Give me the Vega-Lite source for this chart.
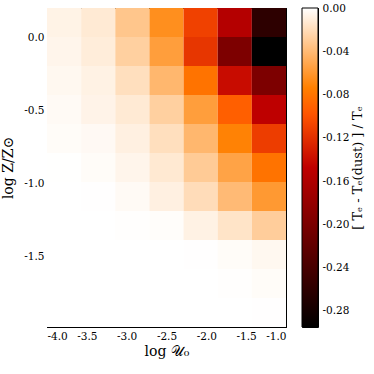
{
 "$schema": "https://vega.github.io/schema/vega-lite/v6.json",
 "padding": {"left": 1, "top": 2, "right": 2, "bottom": 2},
 "spacing": 14,
 "config": {
  "view": {"stroke": "black", "strokeWidth": 1},
  "axis": {"domain": true, "domainColor": "black", "domainWidth": 1, "grid": false, "tickColor": "black", "tickSize": -4, "labelFont": "DejaVu Serif", "labelFontSize": 10.5, "labelColor": "black", "titleFont": "DejaVu Serif", "titleFontSize": 14, "titleFontWeight": "normal", "titleColor": "black"}
 },
 "datasets": {
  "cells": [
   {"u0":-4,"u1":-3.5714,"z0":0,"z1":0.198,"v":-0.0072},
   {"u0":-3.5714,"u1":-3.1429,"z0":0,"z1":0.198,"v":-0.0124},
   {"u0":-3.1429,"u1":-2.7143,"z0":0,"z1":0.198,"v":-0.0333},
   {"u0":-2.7143,"u1":-2.2857,"z0":0,"z1":0.198,"v":-0.065},
   {"u0":-2.2857,"u1":-1.8571,"z0":0,"z1":0.198,"v":-0.110},
   {"u0":-1.8571,"u1":-1.4286,"z0":0,"z1":0.198,"v":-0.156},
   {"u0":-1.4286,"u1":-1,"z0":0,"z1":0.198,"v":-0.260},
   {"u0":-4,"u1":-3.5714,"z0":-0.198,"z1":0,"v":-0.0058},
   {"u0":-3.5714,"u1":-3.1429,"z0":-0.198,"z1":0,"v":-0.0107},
   {"u0":-3.1429,"u1":-2.7143,"z0":-0.198,"z1":0,"v":-0.0275},
   {"u0":-2.7143,"u1":-2.2857,"z0":-0.198,"z1":0,"v":-0.0564},
   {"u0":-2.2857,"u1":-1.8571,"z0":-0.198,"z1":0,"v":-0.1165},
   {"u0":-1.8571,"u1":-1.4286,"z0":-0.198,"z1":0,"v":-0.1986},
   {"u0":-1.4286,"u1":-1,"z0":-0.198,"z1":0,"v":-0.295},
   {"u0":-4,"u1":-3.5714,"z0":-0.396,"z1":-0.198,"v":-0.0043},
   {"u0":-3.5714,"u1":-3.1429,"z0":-0.396,"z1":-0.198,"v":-0.0078},
   {"u0":-3.1429,"u1":-2.7143,"z0":-0.396,"z1":-0.198,"v":-0.0188},
   {"u0":-2.7143,"u1":-2.2857,"z0":-0.396,"z1":-0.198,"v":-0.0419},
   {"u0":-2.2857,"u1":-1.8571,"z0":-0.396,"z1":-0.198,"v":-0.081},
   {"u0":-1.8571,"u1":-1.4286,"z0":-0.396,"z1":-0.198,"v":-0.1408},
   {"u0":-1.4286,"u1":-1,"z0":-0.396,"z1":-0.198,"v":-0.1986},
   {"u0":-4,"u1":-3.5714,"z0":-0.594,"z1":-0.396,"v":-0.0029},
   {"u0":-3.5714,"u1":-3.1429,"z0":-0.594,"z1":-0.396,"v":-0.0067},
   {"u0":-3.1429,"u1":-2.7143,"z0":-0.594,"z1":-0.396,"v":-0.0124},
   {"u0":-2.7143,"u1":-2.2857,"z0":-0.594,"z1":-0.396,"v":-0.0275},
   {"u0":-2.2857,"u1":-1.8571,"z0":-0.594,"z1":-0.396,"v":-0.0564},
   {"u0":-1.8571,"u1":-1.4286,"z0":-0.594,"z1":-0.396,"v":-0.0925},
   {"u0":-1.4286,"u1":-1,"z0":-0.594,"z1":-0.396,"v":-0.1485},
   {"u0":-4,"u1":-3.5714,"z0":-0.792,"z1":-0.594,"v":-0.002},
   {"u0":-3.5714,"u1":-3.1429,"z0":-0.792,"z1":-0.594,"v":-0.0032},
   {"u0":-3.1429,"u1":-2.7143,"z0":-0.792,"z1":-0.594,"v":-0.0087},
   {"u0":-2.7143,"u1":-2.2857,"z0":-0.792,"z1":-0.594,"v":-0.0188},
   {"u0":-2.2857,"u1":-1.8571,"z0":-0.792,"z1":-0.594,"v":-0.0419},
   {"u0":-1.8571,"u1":-1.4286,"z0":-0.792,"z1":-0.594,"v":-0.0723},
   {"u0":-1.4286,"u1":-1,"z0":-0.792,"z1":-0.594,"v":-0.112},
   {"u0":-4,"u1":-3.5714,"z0":-0.99,"z1":-0.792,"v":-0.0002},
   {"u0":-3.5714,"u1":-3.1429,"z0":-0.99,"z1":-0.792,"v":-0.002},
   {"u0":-3.1429,"u1":-2.7143,"z0":-0.99,"z1":-0.792,"v":-0.0058},
   {"u0":-2.7143,"u1":-2.2857,"z0":-0.99,"z1":-0.792,"v":-0.013},
   {"u0":-2.2857,"u1":-1.8571,"z0":-0.99,"z1":-0.792,"v":-0.0304},
   {"u0":-1.8571,"u1":-1.4286,"z0":-0.99,"z1":-0.792,"v":-0.0535},
   {"u0":-1.4286,"u1":-1,"z0":-0.99,"z1":-0.792,"v":-0.081},
   {"u0":-4,"u1":-3.5714,"z0":-1.188,"z1":-0.99,"v":0},
   {"u0":-3.5714,"u1":-3.1429,"z0":-1.188,"z1":-0.99,"v":-0.0003},
   {"u0":-3.1429,"u1":-2.7143,"z0":-1.188,"z1":-0.99,"v":-0.0029},
   {"u0":-2.7143,"u1":-2.2857,"z0":-1.188,"z1":-0.99,"v":-0.0087},
   {"u0":-2.2857,"u1":-1.8571,"z0":-1.188,"z1":-0.99,"v":-0.0202},
   {"u0":-1.8571,"u1":-1.4286,"z0":-1.188,"z1":-0.99,"v":-0.040},
   {"u0":-1.4286,"u1":-1,"z0":-1.188,"z1":-0.99,"v":-0.0593},
   {"u0":-4,"u1":-3.5714,"z0":-1.386,"z1":-1.188,"v":0},
   {"u0":-3.5714,"u1":-3.1429,"z0":-1.386,"z1":-1.188,"v":0},
   {"u0":-3.1429,"u1":-2.7143,"z0":-1.386,"z1":-1.188,"v":-0.0005},
   {"u0":-2.7143,"u1":-2.2857,"z0":-1.386,"z1":-1.188,"v":-0.0014},
   {"u0":-2.2857,"u1":-1.8571,"z0":-1.386,"z1":-1.188,"v":-0.0078},
   {"u0":-1.8571,"u1":-1.4286,"z0":-1.386,"z1":-1.188,"v":-0.0159},
   {"u0":-1.4286,"u1":-1,"z0":-1.386,"z1":-1.188,"v":-0.0289},
   {"u0":-4,"u1":-3.5714,"z0":-1.584,"z1":-1.386,"v":0},
   {"u0":-3.5714,"u1":-3.1429,"z0":-1.584,"z1":-1.386,"v":0},
   {"u0":-3.1429,"u1":-2.7143,"z0":-1.584,"z1":-1.386,"v":0},
   {"u0":-2.7143,"u1":-2.2857,"z0":-1.584,"z1":-1.386,"v":0},
   {"u0":-2.2857,"u1":-1.8571,"z0":-1.584,"z1":-1.386,"v":-0.0003},
   {"u0":-1.8571,"u1":-1.4286,"z0":-1.584,"z1":-1.386,"v":-0.002},
   {"u0":-1.4286,"u1":-1,"z0":-1.584,"z1":-1.386,"v":-0.0043},
   {"u0":-4,"u1":-3.5714,"z0":-1.782,"z1":-1.584,"v":0},
   {"u0":-3.5714,"u1":-3.1429,"z0":-1.782,"z1":-1.584,"v":0},
   {"u0":-3.1429,"u1":-2.7143,"z0":-1.782,"z1":-1.584,"v":0},
   {"u0":-2.7143,"u1":-2.2857,"z0":-1.782,"z1":-1.584,"v":0},
   {"u0":-2.2857,"u1":-1.8571,"z0":-1.782,"z1":-1.584,"v":0},
   {"u0":-1.8571,"u1":-1.4286,"z0":-1.782,"z1":-1.584,"v":-0.0005},
   {"u0":-1.4286,"u1":-1,"z0":-1.782,"z1":-1.584,"v":-0.002},
   {"u0":-4,"u1":-3.5714,"z0":-1.98,"z1":-1.782,"v":0},
   {"u0":-3.5714,"u1":-3.1429,"z0":-1.98,"z1":-1.782,"v":0},
   {"u0":-3.1429,"u1":-2.7143,"z0":-1.98,"z1":-1.782,"v":0},
   {"u0":-2.7143,"u1":-2.2857,"z0":-1.98,"z1":-1.782,"v":0},
   {"u0":-2.2857,"u1":-1.8571,"z0":-1.98,"z1":-1.782,"v":0},
   {"u0":-1.8571,"u1":-1.4286,"z0":-1.98,"z1":-1.782,"v":0},
   {"u0":-1.4286,"u1":-1,"z0":-1.98,"z1":-1.782,"v":-0.0003}
  ]
 },
 "hconcat": [
  {
   "width": 239,
   "height": 319,
   "data": {"name": "cells"},
   "layer": [
    {
     "mark": {"type": "rect", "strokeWidth": 0},
     "encoding": {
      "x": {"field": "u0", "type": "quantitative", "scale": {"domain": [-4, -1], "nice": false, "zero": false},
            "axis": {"orient": "bottom", "values": [-4, -3.5, -3, -2.5, -2, -1.5, -1], "labelExpr": "replace(format(datum.value, '.1f'), '\u2212', '-')", "labelPadding": 8, "title": "log \ud835\udcb0\u2080", "titlePadding": 3}},
      "x2": {"field": "u1"},
      "y": {"field": "z0", "type": "quantitative", "scale": {"domain": [-1.98, 0.198], "nice": false, "zero": false},
            "axis": {"orient": "left", "values": [-1.5, -1, -0.5, 0], "labelExpr": "replace(format(datum.value, '.1f'), '\u2212', '-')", "labelPadding": 7, "title": "log Z/Z\u2299", "titlePadding": 8}},
      "y2": {"field": "z1"},
      "color": {"field": "v", "type": "quantitative",
                "scale": {"domain": [0, -0.07375, -0.098333, -0.1475, -0.295], "range": ["#ffffff", "#ff8000", "#ff5500", "#bf0000", "#000000"], "interpolate": "rgb", "clamp": true},
                "legend": null}
     }
    },
    {
     "mark": {"type": "rect", "opacity": 0},
     "encoding": {
      "x": {"field": "u0", "type": "quantitative", "axis": {"orient": "top", "values": [-4, -3.5, -3, -2.5, -2, -1.5, -1], "labels": false, "title": null}},
      "x2": {"field": "u1"},
      "y": {"field": "z0", "type": "quantitative", "axis": {"orient": "right", "values": [-1.5, -1, -0.5, 0], "labels": false, "title": null}},
      "y2": {"field": "z1"}
     }
    }
   ],
   "resolve": {"axis": {"x": "independent", "y": "independent"}}
  },
  {
   "width": 16,
   "height": 319,
   "data": {"values": [{"hi": 0, "lo": -0.295}]},
   "mark": {"type": "rect", "stroke": "black", "strokeWidth": 1, "fill": {"gradient": "linear", "x1": 0, "y1": 0, "x2": 0, "y2": 1, "stops": [{"offset": 0, "color": "#ffffff"}, {"offset": 0.25, "color": "#ff8000"}, {"offset": 0.3333, "color": "#ff5500"}, {"offset": 0.5, "color": "#bf0000"}, {"offset": 1, "color": "#000000"}]}},
   "encoding": {
    "y": {"field": "hi", "type": "quantitative", "scale": {"domain": [-0.295, 0], "nice": false, "zero": false},
          "axis": {"orient": "right", "domain": false, "values": [-0.28, -0.24, -0.2, -0.16, -0.12, -0.08, -0.04, 0], "labelExpr": "replace(format(datum.value, '.2f'), '\u2212', '-')", "labelPadding": 8, "title": "[ T\u2091 - T\u2091(dust) ] / T\u2091", "titleAngle": -90, "titleBaseline": "top", "titleFontSize": 13, "titlePadding": 3}},
    "y2": {"field": "lo"}
   }
  }
 ]
}
